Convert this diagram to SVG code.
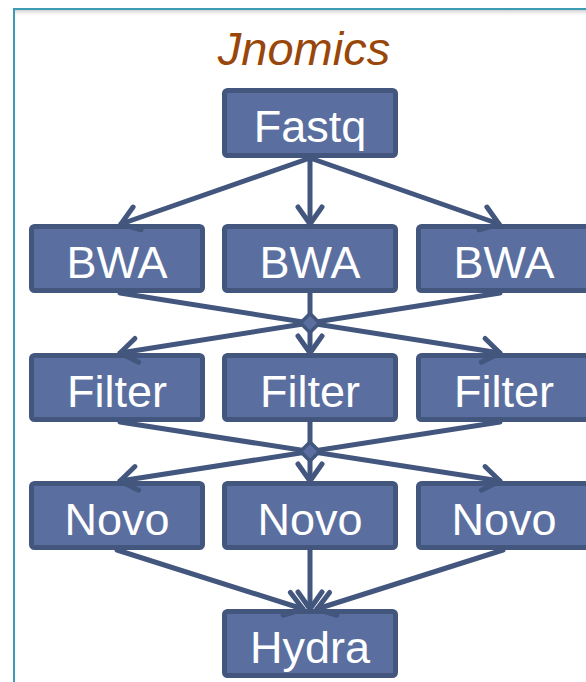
<svg xmlns="http://www.w3.org/2000/svg" width="586" height="682" viewBox="0 0 586 682">
<defs>
<style>
.box{fill:#5a6fa0;stroke:#43567d;stroke-width:5}
.lbl{font-family:"Liberation Sans",Arial,sans-serif;font-size:45px;fill:#ffffff;text-anchor:middle}
.con{fill:none;stroke:#43567d;stroke-width:5;stroke-linecap:round}
.dia{fill:#5a6fa0;stroke:#43567d;stroke-width:3.5;stroke-linejoin:round}
</style>
<marker id="arr" markerUnits="userSpaceOnUse" viewBox="-24 -18 30 36" refX="0" refY="0" markerWidth="30" markerHeight="36" orient="auto" overflow="visible">
<path d="M-17,-12 L0,0 L-17,12" fill="none" stroke="#43567d" stroke-width="5" stroke-linecap="round" stroke-linejoin="round"/>
</marker>
<linearGradient id="shd" x1="0" y1="0" x2="0" y2="1">
<stop offset="0" stop-color="#cfcfcf"/>
<stop offset="1" stop-color="#ffffff" stop-opacity="0"/>
</linearGradient>
</defs>
<rect x="0" y="0" width="586" height="682" fill="#ffffff"/>
<g id="frame">
<rect x="15" y="10" width="571" height="7" fill="url(#shd)"/>
<rect x="14" y="9" width="620" height="720" fill="none" stroke="#3d9cb5" stroke-width="2"/>
</g>
<g id="title">
<text x="304" y="65" font-family="Liberation Sans,Arial,sans-serif" font-style="italic" font-size="47" fill="#98460a" text-anchor="middle">Jnomics</text>
</g>
<g id="fastq"><rect class="box" x="224.5" y="90.5" width="171" height="65" rx="3"/><text class="lbl" x="310" y="142">Fastq</text></g>
<g id="bwa1"><rect class="box" x="31.5" y="226.5" width="171" height="64" rx="3"/><text class="lbl" x="117" y="277.5">BWA</text></g>
<g id="bwa2"><rect class="box" x="224.5" y="226.5" width="171" height="64" rx="3"/><text class="lbl" x="310" y="277.5">BWA</text></g>
<g id="bwa3"><rect class="box" x="418.5" y="226.5" width="171" height="64" rx="3"/><text class="lbl" x="504" y="277.5">BWA</text></g>
<g id="filter1"><rect class="box" x="31.5" y="355.5" width="171" height="64" rx="3"/><text class="lbl" x="117" y="406.5">Filter</text></g>
<g id="filter2"><rect class="box" x="224.5" y="355.5" width="171" height="64" rx="3"/><text class="lbl" x="310" y="406.5">Filter</text></g>
<g id="filter3"><rect class="box" x="418.5" y="355.5" width="171" height="64" rx="3"/><text class="lbl" x="504" y="406.5">Filter</text></g>
<g id="novo1"><rect class="box" x="31.5" y="483.5" width="171" height="64" rx="3"/><text class="lbl" x="117" y="534.5">Novo</text></g>
<g id="novo2"><rect class="box" x="224.5" y="483.5" width="171" height="64" rx="3"/><text class="lbl" x="310" y="534.5">Novo</text></g>
<g id="novo3"><rect class="box" x="418.5" y="483.5" width="171" height="64" rx="3"/><text class="lbl" x="504" y="534.5">Novo</text></g>
<g id="hydra"><rect class="box" x="224.5" y="611.5" width="171" height="64" rx="3"/><text class="lbl" x="310" y="662.5">Hydra</text></g>
<g id="connectors">
<line class="con" x1="310" y1="158" x2="121" y2="224" marker-end="url(#arr)"/>
<line class="con" x1="310" y1="158" x2="310" y2="224" marker-end="url(#arr)"/>
<line class="con" x1="310" y1="158" x2="499" y2="224" marker-end="url(#arr)"/>
<line class="con" x1="120" y1="293" x2="500" y2="353" marker-end="url(#arr)"/>
<line class="con" x1="500" y1="293" x2="120" y2="353" marker-end="url(#arr)"/>
<line class="con" x1="310" y1="293" x2="310" y2="353" marker-end="url(#arr)"/>
<line class="con" x1="120" y1="422" x2="500" y2="481" marker-end="url(#arr)"/>
<line class="con" x1="500" y1="422" x2="120" y2="481" marker-end="url(#arr)"/>
<line class="con" x1="310" y1="422" x2="310" y2="481" marker-end="url(#arr)"/>
<line class="con" x1="117" y1="550" x2="303" y2="609" marker-end="url(#arr)"/>
<line class="con" x1="310" y1="550" x2="310" y2="609" marker-end="url(#arr)"/>
<line class="con" x1="503" y1="550" x2="317" y2="609" marker-end="url(#arr)"/>
<polygon class="dia" points="310,313.5 319.5,323 310,332.5 300.5,323"/>
<polygon class="dia" points="310,442 319.5,451.5 310,461 300.5,451.5"/>
</g>
</svg>
